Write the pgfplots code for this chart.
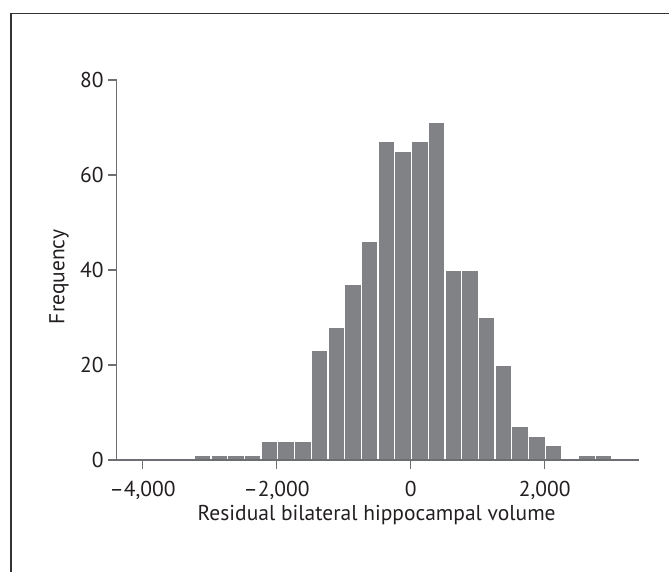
\documentclass[border=0pt]{standalone}
\usepackage{fontspec}
\setmainfont{PT Sans}
\usepackage{pgfplots}
\pgfplotsset{compat=1.18}
\definecolor{bargray}{HTML}{808285}
\definecolor{axgray}{HTML}{6D6E71}
\definecolor{txt}{HTML}{231F20}
\begin{document}
\begin{tikzpicture}
\useasboundingbox (-116.7pt,-111pt) rectangle (552.3pt,460pt);
\draw[line width=1.1pt, color=black!80] (-105.7pt,-120pt) -- (-105.7pt,446.7pt) -- (560pt,446.7pt);
\begin{axis}[
  at={(0pt,0pt)}, anchor=south west,
  scale only axis, width=522pt, height=380pt,
  xmin=-4388, xmax=3403, ymin=0, ymax=80,
  axis x line*=bottom, axis y line*=left,
  axis line style={color=axgray, line width=1.1pt},
  axis on top,
  tick align=outside,
  major tick length=8.5pt,
  every tick/.style={color=axgray, line width=1.1pt},
  xtick={-4000,-2000,0,2000},
  xticklabels={{–4,000},{–2,000},{0},{2,000}},
  ytick={0,20,40,60,80},
  /pgf/number format/assume math mode=true,
  tick label style={font=\fontsize{21.5}{24}\selectfont, color=txt},
  xticklabel shift=9pt,
  yticklabel shift=1pt,
  clip=false,
]
\addplot[ybar interval, fill=bargray, draw=white, line width=1.3pt] coordinates {
(-3232,1) (-2982.5,1) (-2733,1) (-2483.5,1) (-2234,4) (-1984.5,4) (-1735,4)
(-1485.5,23) (-1236,28) (-986.5,37) (-737,46) (-487.5,67) (-238,65) (11.5,67)
(261,71) (510.5,40) (760,40) (1009.5,30) (1259,20) (1508.5,7) (1758,5)
(2007.5,3) (2257,0) (2506.5,1) (2756,1) (3005.5,1)
};
\node[anchor=base, font=\fontsize{21.5}{24}\selectfont, text=txt, inner sep=0pt]
  at (axis description cs:0.498,-0.1605) {Residual bilateral hippocampal volume};
\node[anchor=base, rotate=90, font=\fontsize{21.5}{24}\selectfont, text=txt, inner sep=0pt]
  at (axis description cs:-0.1,0.482) {Frequency};
\end{axis}
\end{tikzpicture}
\end{document}
